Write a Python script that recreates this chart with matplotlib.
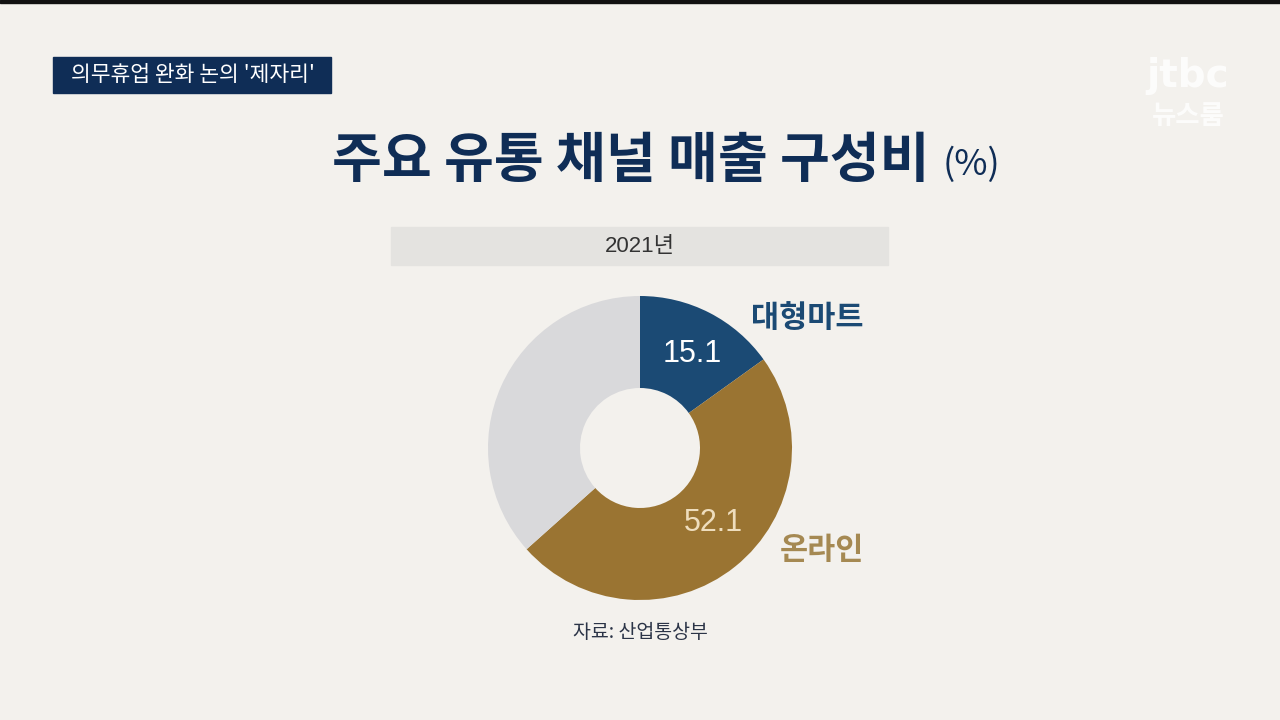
import matplotlib.pyplot as plt
from matplotlib.patches import Rectangle

plt.rcParams['font.family'] = ['Noto Sans CJK KR', 'DejaVu Sans']

# 데이터
channels = ['대형마트', '온라인', '기타']
value_labels = ['15.1', '52.1']
# 원본 그래픽에 그려진 조각 크기 (%)
wedge_sizes = [15.1, 48.3, 36.6]
colors = ['#1B4A74', '#9A7432', '#D9D9DB']

BG = '#F3F1ED'
H = 720
NUM_FONT = ['Liberation Sans', 'Noto Sans CJK KR']

fig = plt.figure(figsize=(12.8, 7.2), dpi=100, facecolor=BG)
ax = fig.add_axes([0, 0, 1, 1])
ax.set_facecolor(BG)

def Y(y):
    return H - y

# 도넛
ax.pie(wedge_sizes, colors=colors, startangle=90, counterclock=False,
       center=(640, Y(448)), radius=152, frame=True,
       wedgeprops=dict(width=92, edgecolor='none', linewidth=0))
ax.set_xlim(0, 1280)
ax.set_ylim(0, H)
ax.set_aspect('auto')
ax.axis('off')

# 상단 검은 줄
ax.add_patch(Rectangle((0, Y(3)), 1280, 3, color='#111111', zorder=5))

# 좌측 태그
ax.add_patch(Rectangle((53, Y(93)), 278, 36, color='#0F2D56', zorder=5))
ax.text(193, Y(75), "의무휴업 완화 논의 '제자리'", color='white', fontsize=15.5,
        ha='center', va='center', zorder=6)

# 로고
ax.text(1188, Y(76), 'jtbc', color='white', alpha=0.8, fontsize=28,
        fontweight='bold', ha='center', va='center', family=['DejaVu Sans'])
ax.text(1188, Y(116), '뉴스룸', color='white', alpha=0.8, fontsize=19,
        fontweight='bold', ha='center', va='center')

# 제목
ax.text(631, Y(162), '주요 유통 채널 매출 구성비', color='#0F2D56', fontsize=39,
        fontweight='heavy', ha='center', va='center')
ax.text(971, Y(165), '(%)', color='#0F2D56', fontsize=26, fontweight='light',
        ha='center', va='center')

# 연도 박스
ax.add_patch(Rectangle((391, Y(265)), 497, 38, color='#E4E3E0', zorder=1))
ax.text(640, Y(246), '2021년', color='#333333', fontsize=16,
        ha='center', va='center', family=NUM_FONT)

# 라벨
ax.text(692, Y(354), value_labels[0], color='white', fontsize=22,
        ha='center', va='center', family=NUM_FONT)
ax.text(713, Y(523), value_labels[1], color='#EEDDBD', fontsize=22,
        ha='center', va='center', family=NUM_FONT)
ax.text(807, Y(318), channels[0], color='#1B4A74', fontsize=22,
        fontweight='bold', ha='center', va='center')
ax.text(822, Y(550), channels[1], color='#A58952', fontsize=22,
        fontweight='bold', ha='center', va='center')

# 출처
ax.text(640, Y(633), '자료: 산업통상부', color='#2B3447', fontsize=14,
        ha='center', va='center')

fig.savefig('out.png', dpi=100, facecolor=BG)
